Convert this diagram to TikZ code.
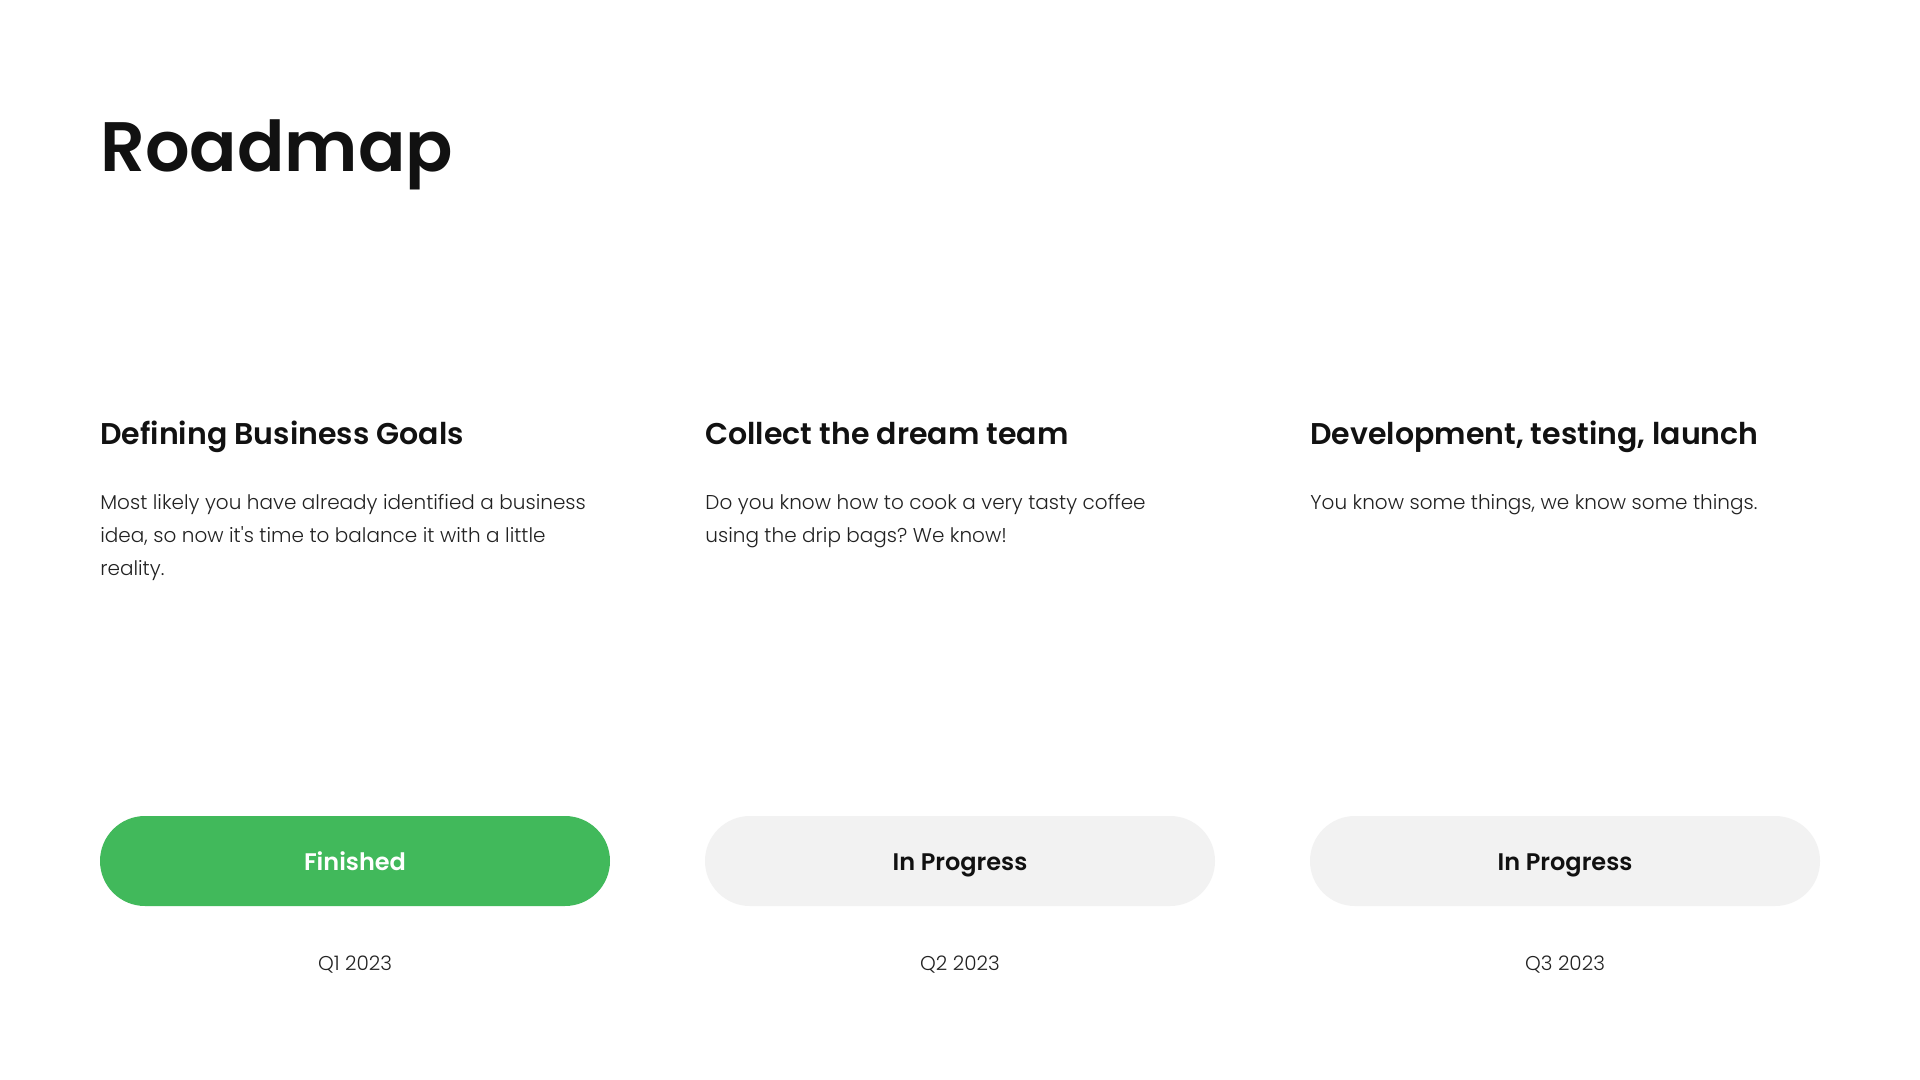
\documentclass[tikz,border=0pt]{standalone}
\usepackage{fontspec}
\setmainfont{Poppins}
\newfontfamily\psemi{Poppins SemiBold}
\newfontfamily\plight{Poppins Light}
\frenchspacing
\definecolor{ink}{HTML}{111111}
\definecolor{bodyink}{HTML}{222222}
\definecolor{done}{HTML}{41B95B}
\definecolor{pending}{HTML}{F2F2F2}
\tikzset{
  titletext/.style={anchor=base west, inner sep=0, text=ink, font=\psemi\fontsize{35}{40}\selectfont},
  headtext/.style={anchor=base west, inner sep=0, text=ink, font=\psemi\fontsize{15}{19}\selectfont},
  bodytext/.style={anchor=base west, inner sep=0, text=bodyink, font=\plight\frenchspacing\fontsize{10}{16.5}\selectfont},
  pill/.style={rectangle, rounded corners=22.5pt, minimum width=255pt, minimum height=45pt, inner sep=0,
    text height=9pt, text depth=0pt, font=\psemi\fontsize{12}{15}\selectfont},
  donepill/.style={pill, fill=done, text=white},
  pendpill/.style={pill, fill=pending, text=ink},
  qtext/.style={anchor=base, inner sep=0, text=bodyink, font=\plight\fontsize{10}{13}\selectfont},
}
\begin{document}
\begin{tikzpicture}[x=0.5pt, y=-0.5pt]
\useasboundingbox[fill=white] (0,0) rectangle (1920,1080);
\node[titletext] (title) at (100,172) {Roadmap};

\node[headtext] (h1) at (100,444) {Defining Business Goals};
\node[headtext] (h2) at (705,444) {Collect the dream team};
\node[headtext] (h3) at (1310,444) {Development, testing, launch};

\node[bodytext] (b1a) at (100,509) {Most likely you have already identified a business};
\node[bodytext] (b1b) at (100,542) {idea, so now it's time to balance it with a little};
\node[bodytext] (b1c) at (100,575) {reality.};

\node[bodytext] (b2a) at (705,509) {Do you know how to cook a very tasty coffee};
\node[bodytext] (b2b) at (705,542) {using the drip bags? We know!};

\node[bodytext] (b3a) at (1310,509) {You know some things, we know some things.};

\node[donepill] (p1) at (355,861) {Finished};
\node[pendpill] (p2) at (960,861) {In Progress};
\node[pendpill] (p3) at (1565,861) {In Progress};

\node[qtext] (q1) at (355,970) {Q1 2023};
\node[qtext] (q2) at (960,970) {Q2 2023};
\node[qtext] (q3) at (1565,970) {Q3 2023};
\end{tikzpicture}
\end{document}
